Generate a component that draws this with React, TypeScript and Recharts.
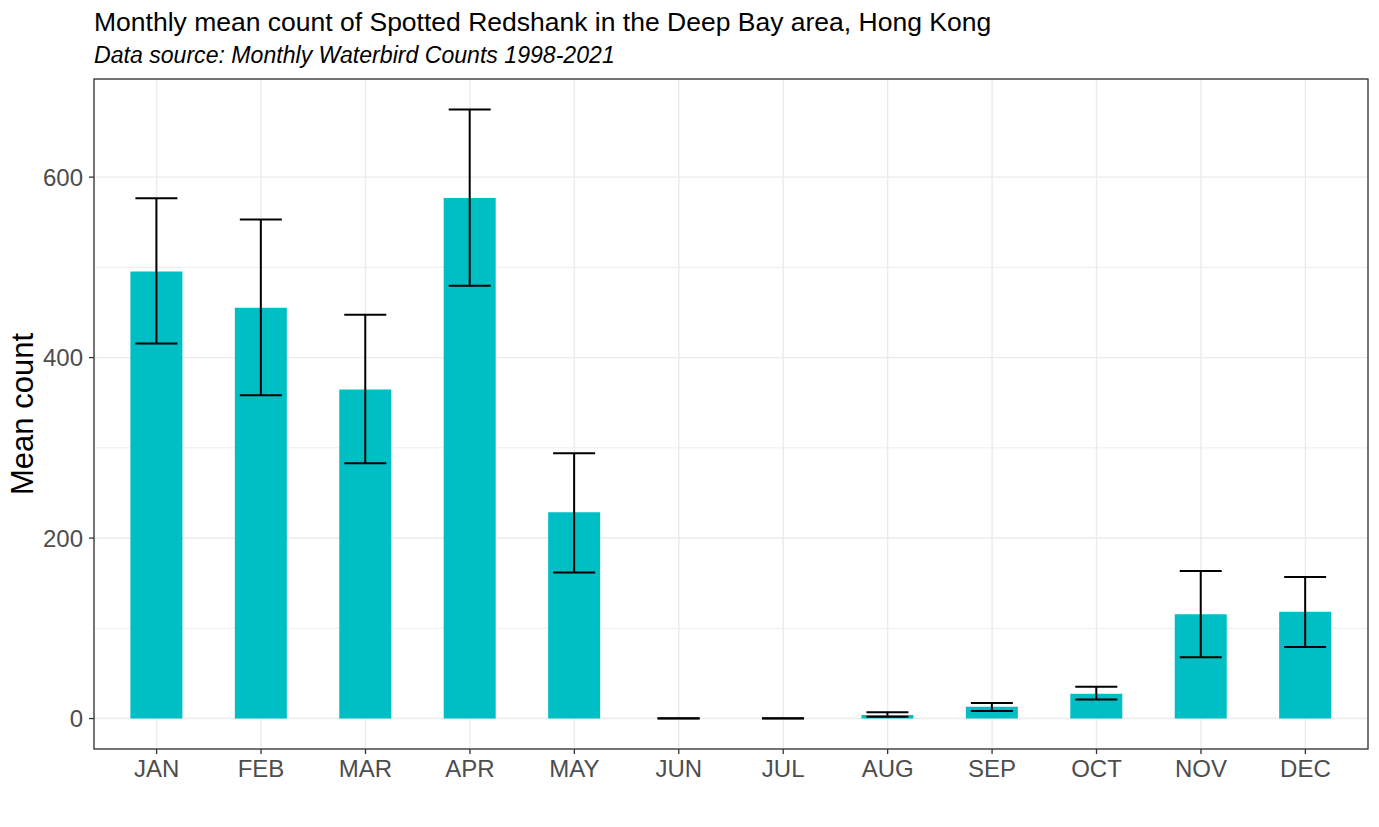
import React from 'react';
import { ComposedChart, Bar, ErrorBar, XAxis, YAxis, CartesianGrid } from 'recharts';

const months = ['JAN', 'FEB', 'MAR', 'APR', 'MAY', 'JUN', 'JUL', 'AUG', 'SEP', 'OCT', 'NOV', 'DEC'];
const meanCount = [495.5, 455.3, 364.6, 577, 228.5, 0.1, 0.1, 4, 13, 27.5, 115.7, 118.3];
const lowerBound = [415.7, 358.3, 283, 479.6, 161.8, 0, 0, 2, 8.4, 21, 67.8, 79.2];
const upperBound = [576.5, 553, 447.6, 675, 294, 0.3, 0.3, 7, 17.3, 35.3, 163.6, 157];
const yTicks = [0, 200, 400, 600];
const yMinorTicks = [100, 300, 500];
const yDomain: [number, number] = [-33.75, 708.75];

const data = months.map((m, i) => ({
  month: m,
  mean: meanCount[i],
  err: [meanCount[i] - lowerBound[i], upperBound[i] - meanCount[i]],
}));

const FONT = '"Liberation Sans", Arial, Helvetica, sans-serif';
const W = 1379;
const H = 827;

export default function App() {
  return (
    <div style={{ position: 'absolute', left: 0, top: 0, width: W, height: H, background: '#fff', fontFamily: FONT }}>
      <ComposedChart
        width={W}
        height={H}
        data={data}
        margin={{ top: 79, right: 11, bottom: 18, left: 0 }}
      >
        <CartesianGrid stroke="#EBEBEB" strokeWidth={0.9} vertical={false} yAxisId="minor" />
        <CartesianGrid stroke="#EBEBEB" strokeWidth={1.4} horizontal vertical />
        <XAxis
          dataKey="month"
          type="category"
          height={60}
          padding={{ left: 10.4, right: 10.4 }}
          axisLine={false}
          tickLine={{ stroke: '#333333', strokeWidth: 1.3 }}
          tickSize={5}
          tickMargin={6}
          tick={{ fill: '#4D4D4D', fontSize: 24, fontFamily: FONT }}
          interval={0}
        />
        <YAxis
          type="number"
          domain={yDomain}
          ticks={yTicks}
          allowDataOverflow
          width={94}
          axisLine={false}
          tickLine={{ stroke: '#333333', strokeWidth: 1.3 }}
          tickSize={5}
          tickMargin={6}
          tick={{ fill: '#4D4D4D', fontSize: 24, fontFamily: FONT }}
        />
        <YAxis
          yAxisId="minor"
          type="number"
          domain={yDomain}
          ticks={yMinorTicks}
          allowDataOverflow
          hide
        />
        <Bar dataKey="mean" fill="#00BFC4" barSize={52} isAnimationActive={false}>
          <ErrorBar dataKey="err" width={21} stroke="#000000" strokeWidth={2} isAnimationActive={false} />
        </Bar>
      </ComposedChart>
      <svg
        width={W}
        height={H}
        style={{ position: 'absolute', left: 0, top: 0, pointerEvents: 'none' }}
      >
        <rect x={94} y={79} width={1274} height={670} fill="none" stroke="#333333" strokeWidth={1.3} />
        <text x={94} y={31} fontSize={26.5} fill="#000" fontFamily={FONT}>
          Monthly mean count of Spotted Redshank in the Deep Bay area, Hong Kong
        </text>
        <text x={94} y={63} fontSize={23.1} fontStyle="italic" fill="#000" fontFamily={FONT}>
          Data source: Monthly Waterbird Counts 1998-2021
        </text>
        <text
          x={33}
          y={414}
          fontSize={31}
          fill="#000"
          fontFamily={FONT}
          textAnchor="middle"
          transform="rotate(-90 33 414)"
        >
          Mean count
        </text>
      </svg>
    </div>
  );
}
